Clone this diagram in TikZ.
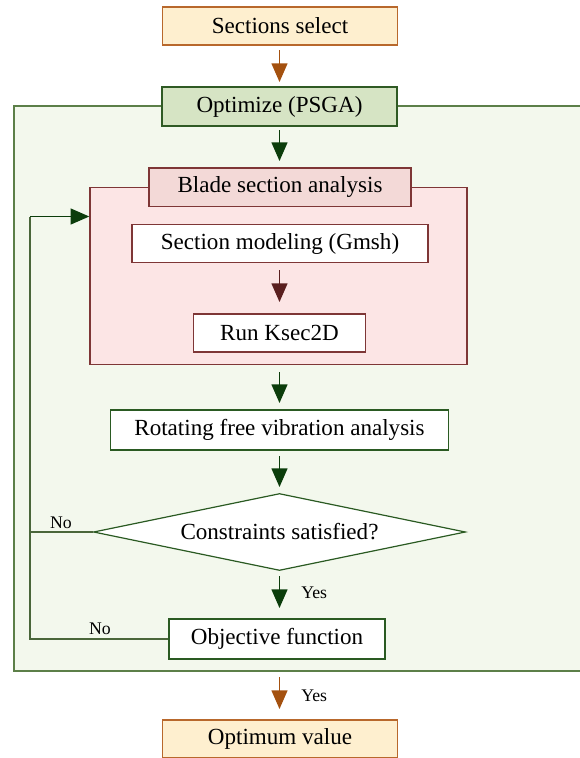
\documentclass[tikz,border=0pt]{standalone}
\usepackage{fontspec}
\setmainfont{Liberation Serif}
\usetikzlibrary{arrows.meta,shapes.geometric}
\definecolor{orfill}{HTML}{FEEFCF}
\definecolor{ordraw}{HTML}{B8682C}
\definecolor{grfill}{HTML}{D6E4C4}
\definecolor{grdraw}{HTML}{2F5A24}
\definecolor{panfill}{HTML}{F3F8ED}
\definecolor{pandraw}{HTML}{5C7F48}
\definecolor{pkhfill}{HTML}{F3D9D7}
\definecolor{pkfill}{HTML}{FCE5E5}
\definecolor{pkdraw}{HTML}{7E3636}
\definecolor{arbrown}{HTML}{A4510F}
\definecolor{argreen}{HTML}{0B3D0B}
\definecolor{arred}{HTML}{5A1F1F}
\definecolor{bxgreen}{HTML}{2A5A22}
\begin{document}
\begin{tikzpicture}[x=0.75pt,y=-0.75pt,
  sz/.style 2 args={minimum width=#1*0.75pt, minimum height=#2*0.75pt},
  box/.style={draw, line width=1.1pt, inner sep=0pt, font=\fontsize{17.3}{20}\selectfont},
  tip/.tip={Triangle[width=12pt,length=14pt]},
  arr/.style={line width=1pt, -tip},
  lbl/.style={font=\fontsize{13.3}{15}\selectfont, inner sep=0pt},
  loop/.style={line width=0.9pt, draw=pandraw!80!black}]
\useasboundingbox (0,0) rectangle (580,758);
% outer panel
\fill[panfill] (14,106) rectangle (582,671);
\draw[pandraw, line width=1.1pt] (582,106) -- (14,106) -- (14,671) -- (582,671);
% pink panel
\node[box, draw=pkdraw, fill=pkfill, sz={377}{177.5}] (pink) at (278.5,276) {};
% nodes
\node[box, draw=ordraw, fill=orfill, sz={235}{38}] (sel) at (280,26) {Sections select};
\node[box, draw=grdraw, fill=grfill, sz={235}{39}] (opt) at (279.5,106.5) {Optimize (PSGA)};
\node[box, draw=pkdraw, fill=pkhfill, sz={262}{38.6}] (blade) at (280,187.3) {Blade section analysis};
\node[box, draw=pkdraw, fill=white, sz={296}{38.5}] (model) at (280,243.5) {Section modeling (Gmsh)};
\node[box, draw=pkdraw, fill=white, sz={172}{38}] (run) at (279.5,333) {Run Ksec2D};
\node[box, draw=bxgreen, fill=white, sz={338}{40}] (rot) at (279.5,430) {Rotating free vibration analysis};
\node[diamond, shape aspect=4.83, draw=bxgreen, line width=0.9pt, fill=white, inner sep=0pt, sz={372}{77}, font=\fontsize{17.3}{20}\selectfont] (cons) at (279.5,532) {Constraints satisfied?};
\node[box, draw=bxgreen, fill=white, sz={216}{40}] (obj) at (277,639) {Objective function};
\node[box, draw=ordraw, fill=orfill, sz={235}{38}] (optv) at (280,739) {Optimum value};
% arrows
\coordinate (a1s) at (279.5,50);  \coordinate (a1e) at (279.5,82);
\coordinate (a2s) at (279.5,130); \coordinate (a2e) at (279.5,161);
\coordinate (a3s) at (279.5,270); \coordinate (a3e) at (279.5,302);
\coordinate (a4s) at (279.5,372); \coordinate (a4e) at (279.5,403);
\coordinate (a5s) at (279.5,456); \coordinate (a5e) at (279.5,487);
\coordinate (a6s) at (279.5,576); \coordinate (a6e) at (279.5,608);
\coordinate (a7s) at (279.5,677); \coordinate (a7e) at (279.5,709);
\draw[arr, arbrown] (a1s) -- (a1e);
\draw[arr, argreen] (a2s) -- (a2e);
\draw[arr, arred] (a3s) -- (a3e);
\draw[arr, argreen] (a4s) -- (a4e);
\draw[arr, argreen] (a5s) -- (a5e);
\draw[arr, argreen] (a6s) -- (a6e);
\node[lbl, anchor=west] (yes1) at (301,593) {Yes};
\draw[arr, arbrown] (a7s) -- (a7e);
\node[lbl, anchor=west] (yes2) at (301,696) {Yes};
% loop back
\coordinate (lx1) at (30,532);
\coordinate (lx2) at (30,639);
\coordinate (lx3) at (30,216.5);
\draw[loop] (cons.west) -- (lx1);
\draw[loop] (obj.west) -- (lx2) -- (lx3);
\draw[loop, -tip, argreen] (lx3) -- (pink.west |- lx3);
\node[lbl] (no1) at (61,523) {No};
\node[lbl] (no2) at (100,629) {No};
\end{tikzpicture}
\end{document}
